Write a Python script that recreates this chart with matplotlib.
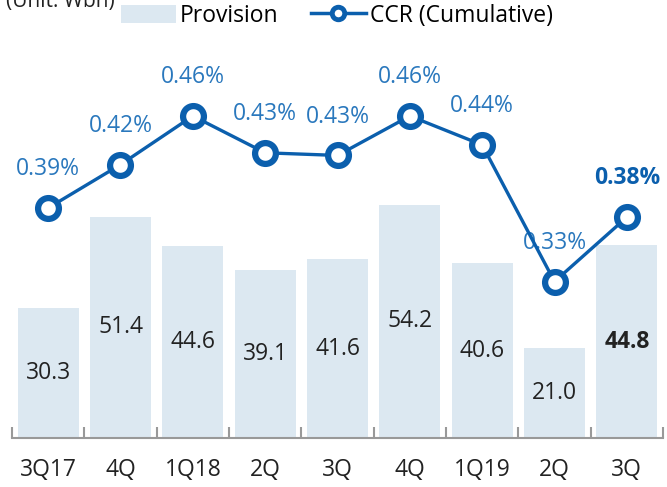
import matplotlib
matplotlib.use("Agg")
import matplotlib.pyplot as plt
import numpy as np
from matplotlib.lines import Line2D
from matplotlib.patches import Patch

categories = ["3Q17", "4Q", "1Q18", "2Q", "3Q", "4Q", "1Q19", "2Q", "3Q"]
provision = [30.3, 51.4, 44.6, 39.1, 41.6, 54.2, 40.6, 21.0, 44.8]
ccr = [0.39, 0.423, 0.46, 0.432, 0.430, 0.46, 0.438, 0.334, 0.383]

plt.rcParams['font.family'] = ['Open Sans', 'DejaVu Sans']

BAR_C = "#dce8f1"
LINE_C = "#0b5fad"
LBL_C = "#2a78bd"
FS = 16.5

fig = plt.figure(figsize=(6.67, 4.87), dpi=100)
ax = fig.add_axes([12/667, 1-438/487, (663-12)/667, 398/487])
x = np.arange(len(categories))
ax.bar(x, provision, width=0.84, color=BAR_C, zorder=1)
ax.set_xlim(-0.5, len(categories)-0.5)
ax.set_ylim(0, 398/4.3)
for i, v in enumerate(provision):
    ax.text(i, v/2, f"{v:.1f}", ha="center", va="center", fontsize=FS,
            color="#222222", fontweight="bold" if i == len(provision)-1 else "normal")

for s in ["top", "right", "left"]:
    ax.spines[s].set_visible(False)
ax.spines["bottom"].set_color("#999999")
ax.spines["bottom"].set_linewidth(1.5)
ax.set_yticks([])
ax.set_xticks(np.arange(-0.5, len(categories)))
ax.set_xticklabels([])
ax.tick_params(axis="x", direction="in", length=8, width=1.5, color="#999999")
for i, c in enumerate(categories):
    ax.text(i, -0.08, c, transform=ax.get_xaxis_transform(), ha="center", va="center",
            fontsize=FS, color="#222222")

ax2 = ax.twinx()
ax2.set_ylim(0.39-(438-208)/1314, 0.46+(116-40)/1314)
ax2.plot(x, ccr, color=LINE_C, lw=2.4, marker="o", ms=15, mfc="white",
         mec=LINE_C, mew=4.5, zorder=5)
for i, v in enumerate(ccr):
    last = i == len(ccr)-1
    ax2.annotate(f"{v:.2f}%", (i, v), xytext=(0, 28), textcoords="offset points",
                 ha="center", va="center", fontsize=FS,
                 color=LINE_C if last else LBL_C,
                 fontweight="bold" if last else "normal")
ax2.axis("off")

fig.text(6/667, 1-1/487, "(Unit: Wbn)", fontsize=15, color="#222222", va="center", ha="left")

handles = [Patch(facecolor=BAR_C, edgecolor="none", label="Provision"),
           Line2D([0], [0], color=LINE_C, lw=2.5, marker="o", ms=9, mfc="white",
                  mec=LINE_C, mew=3.5, label="CCR (Cumulative)")]
fig.legend(handles=handles, loc="center", bbox_to_anchor=(337/667, 1-16/487), ncol=2,
           frameon=False, fontsize=FS, handlelength=2.4, handleheight=0.85,
           columnspacing=1.4, handletextpad=0.2)

fig.savefig("out.png", dpi=100)
